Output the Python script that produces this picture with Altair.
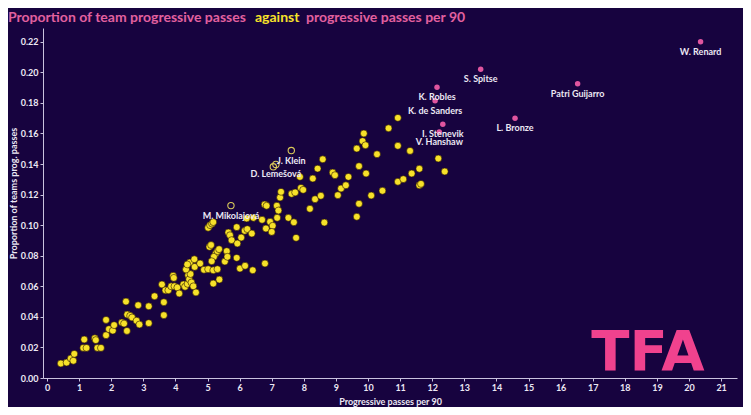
import altair as alt
import pandas as pd

# ---------------- data ----------------
yellow_x = [0.43, 0.61, 0.74, 0.82, 0.85, 1.13, 1.23, 1.16, 1.49, 1.52, 1.57, 1.68,
            1.84, 1.84, 1.93, 2.05, 2.09, 2.33, 2.40, 2.49, 2.46, 2.50, 2.59, 2.65,
            2.79, 2.84, 2.88, 3.17, 3.17, 3.35, 3.58, 3.64, 3.64, 3.69, 3.78, 3.93,
            3.95, 3.87, 3.97, 4.06, 4.12, 4.25, 4.30, 4.38, 4.40, 4.43, 4.47, 4.50,
            4.56, 4.64, 4.33, 4.45, 4.37, 4.59, 4.60, 4.77, 4.89, 5.02, 5.18, 5.31,
            5.02, 5.08, 5.14, 5.18, 5.06, 5.11, 5.26, 5.20, 5.31, 5.36, 5.13, 5.18,
            5.37, 5.54, 5.60, 5.62, 5.65, 5.70, 5.75, 5.91, 5.91, 5.93, 6.01, 6.05,
            6.16, 6.24, 6.17, 6.22, 6.43, 6.38, 6.41, 6.78, 6.84, 6.70, 6.79, 6.82,
            6.95, 7.03, 7.00, 7.16, 7.21, 7.17, 7.26, 7.29, 7.52, 7.62, 7.73, 7.69,
            7.76, 7.88, 7.91, 7.98, 8.19, 8.28, 8.35, 8.43, 8.53, 8.59, 8.64, 8.90,
            8.97, 9.06, 9.16, 9.31, 9.39, 9.65, 9.72, 9.87, 9.83, 9.92, 9.94, 10.28,
            10.64, 10.93, 10.93, 11.31, 11.36, 11.60, 12.19, 12.39, 9.72, 9.65, 10.10,
            10.45, 10.93, 11.10, 11.60, 11.65]
yellow_y = [0.0095, 0.0101, 0.0128, 0.0113, 0.0158, 0.0197, 0.0197, 0.0252, 0.0260, 0.0248, 0.0197, 0.0197,
            0.0280, 0.0380, 0.0320, 0.0310, 0.0346, 0.0363, 0.0356, 0.0308, 0.0500, 0.0415, 0.0407, 0.0396,
            0.0375, 0.0476, 0.0350, 0.0469, 0.0359, 0.0535, 0.0612, 0.0496, 0.0411, 0.0574, 0.0574, 0.0669,
            0.0655, 0.0600, 0.0600, 0.0592, 0.0553, 0.0612, 0.0597, 0.0616, 0.0673, 0.0646, 0.0680, 0.0625,
            0.0600, 0.0560, 0.0710, 0.0756, 0.0743, 0.0777, 0.0727, 0.0749, 0.0708, 0.0712, 0.0705, 0.0712,
            0.0983, 0.1000, 0.1010, 0.1020, 0.0858, 0.0870, 0.0815, 0.0793, 0.0830, 0.0843, 0.0764, 0.0618,
            0.0644, 0.0762, 0.0830, 0.0793, 0.0952, 0.0934, 0.0902, 0.0987, 0.0786, 0.0880, 0.0716, 0.0919,
            0.0963, 0.0974, 0.0734, 0.1044, 0.1048, 0.0945, 0.0705, 0.1135, 0.1127, 0.1035, 0.0749, 0.0978,
            0.1022, 0.0996, 0.0956, 0.1127, 0.1096, 0.1048, 0.1181, 0.1218, 0.1048, 0.1205, 0.1214, 0.1019,
            0.0917, 0.1316, 0.1244, 0.1231, 0.1107, 0.1305, 0.1170, 0.1370, 0.1192, 0.1431, 0.1017, 0.1344,
            0.1327, 0.1196, 0.1240, 0.1261, 0.1316, 0.1501, 0.1386, 0.1600, 0.1550, 0.1523, 0.1338, 0.1464,
            0.1634, 0.1702, 0.1519, 0.1486, 0.1338, 0.1369, 0.1436, 0.1351, 0.1140, 0.1055, 0.1194,
            0.1225, 0.1284, 0.1301, 0.1261, 0.1270]

pink_names = ["W. Renard", "S. Spitse", "Patri Guijarro", "L. Bronze", "K. Robles",
              "K. de Sanders", "I. Stenevik", "V. Hanshaw"]
pink_x = [20.36, 13.51, 16.53, 14.58, 12.15, 12.09, 12.33, 12.22]
pink_y = [0.220, 0.202, 0.1925, 0.170, 0.1903, 0.1814, 0.166, 0.161]

ring_names = ["M. Mikolajová", "J. Klein", "D. Lemešová", ""]
ring_x = [5.73, 7.61, 7.13, 7.05]
ring_y = [0.1128, 0.1488, 0.1397, 0.1382]

title_parts = ["Proportion of team progressive passes", "against", "progressive passes per 90"]
x_ticks = list(range(0, 22))
y_ticks = [0.00, 0.02, 0.04, 0.06, 0.08, 0.10, 0.12, 0.14, 0.16, 0.18, 0.20, 0.22]

# ---------------- style ----------------
BG = "#17033f"
YELLOW = "#f7e12a"
PINK = "#e0559f"
TITLE_PINK = "#e2609f"
AXIS = "#c9c2de"
TEXT = "#ece8f4"
FONT = "Lato"

W, H = 694, 350

yellow_df = pd.DataFrame({"x": yellow_x, "y": yellow_y})
pink_df = pd.DataFrame({"name": pink_names, "x": pink_x, "y": pink_y})
ring_df = pd.DataFrame({"name": ring_names, "x": ring_x, "y": ring_y})

xs = alt.Scale(domain=[-0.125, 21.495], nice=False, zero=False)
ys = alt.Scale(domain=[0, 0.229], nice=False, zero=False)

x_axis = alt.Axis(values=x_ticks, title="Progressive passes per 90", format="d",
                  labelOverlap=False, titlePadding=5)
y_axis = alt.Axis(values=y_ticks, title="Proportion of teams prog. passes", format=".2f",
                  labelOverlap=False, titleX=-25, titleY=165)

def X():
    return alt.X("x:Q", scale=xs, axis=x_axis)

def Y():
    return alt.Y("y:Q", scale=ys, axis=y_axis)

yellow = alt.Chart(yellow_df).mark_circle(
    size=48, color=YELLOW, opacity=1, stroke="#2a1400", strokeWidth=0.6
).encode(x=X(), y=Y())

rings = alt.Chart(ring_df).mark_point(
    shape="circle", size=40, filled=False, color="#d9c95a", strokeWidth=1.1, opacity=1
).encode(x=X(), y=Y())

pink = alt.Chart(pink_df).mark_circle(size=30, color=PINK, opacity=1).encode(x=X(), y=Y())

label_style = dict(font=FONT, fontSize=9, fontWeight="bold", color=TEXT,
                   align="center", baseline="middle", dy=10)
pink_labels = alt.Chart(pink_df).mark_text(**label_style).encode(
    x=X(), y=Y(), text="name:N")
ring_labels = alt.Chart(ring_df).mark_text(**label_style).encode(
    x=X(), y=Y(), text="name:N")

def title_piece(txt, xpos, color):
    return alt.Chart(pd.DataFrame({"t": [txt]})).mark_text(
        font=FONT, fontSize=14, fontWeight="bold", color=color,
        align="left", baseline="top"
    ).encode(x=alt.value(xpos), y=alt.value(-17), text="t:N")

t1 = title_piece(title_parts[0], -35, TITLE_PINK)
t2 = title_piece(title_parts[1], 212, YELLOW)
t3 = title_piece(title_parts[2], 263, TITLE_PINK)

logo = alt.Chart(pd.DataFrame({"t": ["TFA"]})).mark_text(
    font="DejaVu Sans", fontSize=56, fontWeight="bold", color="#f0428e",
    align="center", baseline="alphabetic"
).encode(x=alt.value(605), y=alt.value(342), text="t:N")

chart = alt.layer(
    yellow, rings, pink, ring_labels, pink_labels, t1, t2, t3, logo
).properties(
    width=W, height=H, background=BG,
    autosize=alt.AutoSizeParams(type="none"),
    padding={"left": 35, "top": 20, "right": 6, "bottom": 29},
).configure_view(stroke=None).configure_axis(
    grid=False, domainColor=AXIS, tickColor=AXIS, tickSize=3,
    labelColor=TEXT, labelFont=FONT, labelFontSize=9, labelFontWeight="bold",
    titleColor=TEXT, titleFont=FONT, titleFontSize=9, titleFontWeight="bold",
    labelPadding=2, labelOverlap=False,
)

chart.save("out.html", embed_options={"renderer": "svg", "actions": False})
